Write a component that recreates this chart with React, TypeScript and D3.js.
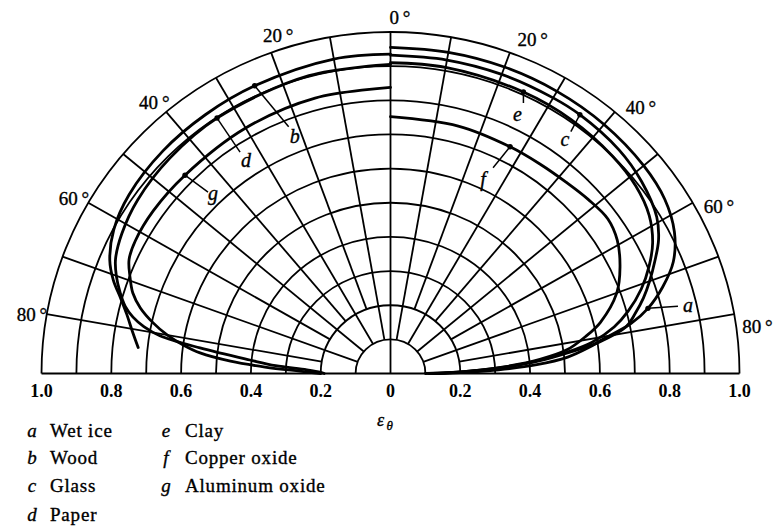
import React from "react";
import * as d3 from "d3";

const WIDTH = 777;
const HEIGHT = 528;

// Polar grid: emissivity rings and angle rays (degrees from the normal)
const RINGS = [0.1, 0.2, 0.3, 0.4, 0.5, 0.6, 0.7, 0.8, 0.9, 1.0];
const RAY_ANGLES = [0, 10, 20, 30, 40, 50, 60, 70, 80];
const ANGLE_LABELS = [0, 20, 40, 60, 80];
const AXIS_TICKS = [-1, -0.8, -0.6, -0.4, -0.2, 0, 0.2, 0.4, 0.6, 0.8, 1];

// Directional emissivity, [θ in degrees, ε_θ]
const wetIce: [number, number][] = [
  [0, 0.955], [10, 0.955], [20, 0.955], [30, 0.954], [40, 0.952], [50, 0.947],
  [57, 0.937], [63, 0.913], [68, 0.874], [72, 0.82], [75.5, 0.762], [78, 0.705],
  [80.7, 0.615], [82.5, 0.57], [84.6, 0.51], [86.5, 0.42], [88, 0.31], [89.3, 0.2], [90, 0.13],
];
const wood: [number, number][] = [
  [0, 0.935], [10, 0.935], [24.8, 0.928], [35, 0.925], [45, 0.922], [55, 0.914],
  [62, 0.898], [67.6, 0.87], [71, 0.84], [74, 0.805], [77, 0.776], [80.5, 0.75], [84, 0.727],
];
const glass: [number, number][] = [
  [0, 0.932], [10, 0.932], [20, 0.932], [30, 0.932], [35.6, 0.932], [45, 0.926],
  [52, 0.913], [59, 0.89], [63, 0.862], [66.5, 0.826], [70, 0.79], [73, 0.758],
  [76, 0.722], [78.6, 0.688], [81.4, 0.6], [83, 0.52], [85, 0.43], [87, 0.32], [88.5, 0.22], [90, 0.12],
];
const paper: [number, number][] = [
  [0, 0.905], [15, 0.903], [33.6, 0.898], [45, 0.893], [55, 0.885], [62, 0.872],
  [67, 0.856], [70, 0.836], [73, 0.81], [75.5, 0.785], [77.4, 0.756], [79, 0.72],
  [80.5, 0.67], [82.2, 0.551], [84.4, 0.405], [86, 0.33], [87.4, 0.24], [89, 0.2], [90, 0.19],
];
const clay: [number, number][] = [
  [0, 0.91], [10, 0.91], [24.8, 0.908], [35, 0.906], [45, 0.9], [52, 0.892],
  [58, 0.874], [63, 0.843], [67, 0.805], [71, 0.76], [75, 0.705], [78, 0.655],
  [81, 0.585], [83, 0.51], [85, 0.42], [87, 0.31], [88.5, 0.21], [90, 0.11],
];
const copperOxide: [number, number][] = [
  [0, 0.752], [15, 0.75], [27.3, 0.747], [35, 0.748], [42, 0.753], [48, 0.762],
  [54, 0.77], [59, 0.758], [64.6, 0.728], [70, 0.69], [76, 0.62], [79, 0.57],
  [82.2, 0.51], [84.5, 0.43], [86.5, 0.33], [88.5, 0.21], [90, 0.1],
];
const aluminumOxide: [number, number][] = [
  [0, 0.838], [15, 0.835], [30, 0.83], [45.4, 0.827], [55, 0.83], [62, 0.828],
  [66, 0.82], [69, 0.8], [72.3, 0.775], [75, 0.742], [77.7, 0.696], [80, 0.65],
  [82, 0.6], [83.7, 0.549], [85.5, 0.46], [87, 0.36], [88.5, 0.26], [90, 0.2],
];

const SERIES_KEYS = ["a", "b", "c", "d", "e", "f", "g"];
const SERIES_NAMES = ["Wet ice", "Wood", "Glass", "Paper", "Clay", "Copper oxide", "Aluminum oxide"];
// +1 draws on the right half, -1 on the left half
const SERIES_SIDES = [1, -1, 1, -1, 1, 1, -1];
const SERIES_POINTS = [wetIce, wood, glass, paper, clay, copperOxide, aluminumOxide];

// Letter callouts: anchored on a data point (by θ), leader end and label offsets in px
const CALLOUTS = [
  { key: "a", at: 75.5, leader: [30, -2], label: [40, 4] },
  { key: "b", at: 24.8, leader: [34, 41], label: [40, 57] },
  { key: "c", at: 35.6, leader: [-9, 17], label: [-15, 31] },
  { key: "d", at: 33.6, leader: [23, 34], label: [29, 49] },
  { key: "e", at: 24.8, leader: [0, 11], label: [-6, 29] },
  { key: "f", at: 27.3, leader: [-17, 21], label: [-27, 39] },
  { key: "g", at: 45.4, leader: [23, 17], label: [28, 25] },
];

const CX = 390.5;
const CY = 373.5;
const RX = 349;
const RY = 341.5;

const xScale = d3.scaleLinear().domain([-1, 1]).range([CX - RX, CX + RX]);
const yScale = d3.scaleLinear().domain([0, 1]).range([CY, CY - RY]);

const rad = (deg: number) => (deg * Math.PI) / 180;
function polar(deg: number, r: number, side: number): [number, number] {
  return [xScale(side * r * Math.sin(rad(deg))), yScale(r * Math.cos(rad(deg)))];
}

const FONT = '"Liberation Serif", "Times New Roman", Tinos, "DejaVu Serif", serif';

export default function App() {
  const series = SERIES_KEYS.map((key, i) => ({
    key,
    name: SERIES_NAMES[i],
    side: SERIES_SIDES[i],
    points: SERIES_POINTS[i],
  }));

  const ringPath = (r: number) => {
    const x0 = xScale(-r);
    const x1 = xScale(r);
    const ax = xScale(r) - xScale(0);
    const ay = yScale(0) - yScale(r);
    return `M${x0},${CY} A${ax},${ay} 0 0 1 ${x1},${CY}`;
  };

  const rays: { x1: number; y1: number; x2: number; y2: number; k: string }[] = [];
  RAY_ANGLES.forEach((deg) => {
    const sides = deg === 0 ? [1] : [-1, 1];
    const inner = deg === 0 ? 0 : (deg / 10) % 2 === 1 ? 0.1 : 0.2;
    sides.forEach((s) => {
      const [x1, y1] = polar(deg, inner, s);
      const [x2, y2] = polar(deg, 1, s);
      rays.push({ x1, y1, x2, y2, k: `${deg}-${s}` });
    });
  });

  const fmt = d3.format(".1f");

  const angleLabel = (deg: number, side: number) => {
    if (deg === 0) return polar(1.5, 1.042, 1);
    if (side > 0) return polar(deg + 2.6, 1.06, 1);
    return polar(deg === 20 ? 18 : deg + 0.5, 1.042, -1);
  };

  const leftLegend = series.slice(0, 4);
  const rightLegend = series.slice(4);
  const legendRows = [437, 464, 492, 520.5];
  const textStyle = { fontFamily: FONT };
  const ink = { stroke: "#000", strokeWidth: 0.35 };

  return (
    <div style={{ position: "fixed", left: 0, top: 0, background: "#fff" }}>
      <svg width={WIDTH} height={HEIGHT} viewBox={`0 0 ${WIDTH} ${HEIGHT}`} style={{ display: "block" }}>
        <rect width={WIDTH} height={HEIGHT} fill="#fff" />
        <g stroke="#000" strokeWidth={1.8} fill="none">
          {RINGS.map((r) => (
            <path key={r} d={ringPath(r)} />
          ))}
          {rays.map((l) => (
            <line key={l.k} x1={l.x1} y1={l.y1} x2={l.x2} y2={l.y2} />
          ))}
          <line x1={xScale(-1)} y1={CY} x2={xScale(1)} y2={CY} />
        </g>

        <g stroke="#000" strokeWidth={2.8} fill="none" strokeLinecap="round" strokeLinejoin="round">
          {series.map((s) => {
            const line = d3
              .line<[number, number]>()
              .x((d) => polar(d[0], d[1], s.side)[0])
              .y((d) => polar(d[0], d[1], s.side)[1])
              .curve(d3.curveCatmullRom.alpha(0.5));
            return <path key={s.key} d={line(s.points) || ""} />;
          })}
        </g>

        <g style={textStyle} fill="#000">
          {CALLOUTS.map((c) => {
            const s = series.find((x) => x.key === c.key)!;
            const p = s.points.find((d) => d[0] === c.at)!;
            const [x, y] = polar(p[0], p[1], s.side);
            return (
              <g key={c.key}>
                <circle cx={x} cy={y} r={2.7} fill="#000" />
                <line x1={x} y1={y} x2={x + c.leader[0]} y2={y + c.leader[1]} stroke="#000" strokeWidth={1.5} />
                <text x={x + c.label[0]} y={y + c.label[1]} style={{ ...textStyle, ...ink }} fontSize={20} fontStyle="italic" textAnchor="middle">
                  {c.key}
                </text>
              </g>
            );
          })}

          {ANGLE_LABELS.flatMap((deg) => (deg === 0 ? [1] : [-1, 1]).map((side) => {
            const [x, y] = angleLabel(deg, side);
            return (
              <text key={`${deg}-${side}`} x={x} y={y} style={{ ...textStyle, ...ink }} fontSize={19} textAnchor="middle" dominantBaseline="central">
                {`${deg}\u2009°`}
              </text>
            );
          }))}

          {AXIS_TICKS.map((v) => (
            <text key={v} x={xScale(v)} y={397} style={textStyle} fontSize={18} fontWeight="bold" textAnchor="middle">
              {v === 0 ? "0" : fmt(Math.abs(v))}
            </text>
          ))}

          <text x={377} y={426} style={{ ...textStyle, ...ink }} fontSize={18} fontStyle="italic">ε</text>
          <text x={386.5} y={429.5} style={{ ...textStyle, ...ink }} fontSize={13} fontStyle="italic">θ</text>

          {leftLegend.map((s, i) => (
            <g key={s.key}>
              <text x={32} y={legendRows[i]} style={{ ...textStyle, ...ink }} fontSize={19} fontStyle="italic" textAnchor="middle">{s.key}</text>
              <text x={50} y={legendRows[i]} style={{ ...textStyle, ...ink }} fontSize={19} letterSpacing={0.8}>{s.name}</text>
            </g>
          ))}
          {rightLegend.map((s, i) => (
            <g key={s.key}>
              <text x={166} y={legendRows[i]} style={{ ...textStyle, ...ink }} fontSize={19} fontStyle="italic" textAnchor="middle">{s.key}</text>
              <text x={185} y={legendRows[i]} style={{ ...textStyle, ...ink }} fontSize={19} letterSpacing={0.8}>{s.name}</text>
            </g>
          ))}
        </g>
      </svg>
    </div>
  );
}
